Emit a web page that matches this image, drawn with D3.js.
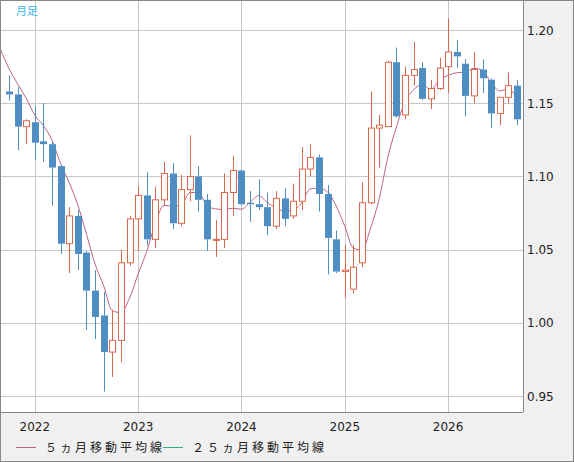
<!DOCTYPE html>
<html><head><meta charset="utf-8">
<script src="https://cdn.jsdelivr.net/npm/d3@7"></script>
<style>body{margin:0;background:#fff}svg{display:block;font-family:"DejaVu Sans",sans-serif}</style>
</head><body>
<svg id="c" width="574" height="462"></svg>
<script>
// monthly candles Oct 2021 .. Sep 2026
const months = d3.range(60).map(i => new Date(2021, 9 + i, 1));
const open  = [1.158,1.156,1.134,1.137,1.124,1.122,1.107,1.054,1.073,1.048,1.022,1.005,0.980,0.988,1.041,1.071,1.087,1.057,1.084,1.102,1.068,1.091,1.100,1.084,1.057,1.057,1.089,1.104,1.082,1.081,1.079,1.066,1.085,1.073,1.083,1.105,1.113,1.088,1.057,1.035,1.023,1.041,1.082,1.133,1.134,1.178,1.142,1.169,1.174,1.153,1.160,1.175,1.185,1.177,1.155,1.173,1.166,1.143,1.154,1.162];
const close = [1.156,1.134,1.138,1.123,1.122,1.106,1.054,1.073,1.047,1.022,1.004,0.980,0.988,1.041,1.071,1.087,1.057,1.084,1.102,1.068,1.091,1.100,1.084,1.057,1.057,1.089,1.104,1.081,1.081,1.079,1.066,1.085,1.071,1.083,1.105,1.113,1.088,1.058,1.035,1.036,1.038,1.082,1.133,1.135,1.178,1.141,1.169,1.173,1.153,1.160,1.174,1.185,1.182,1.155,1.173,1.167,1.143,1.154,1.162,1.139];
const high  = [1.169,1.161,1.139,1.148,1.150,1.124,1.108,1.079,1.077,1.049,1.036,1.021,1.009,1.050,1.073,1.093,1.103,1.093,1.110,1.109,1.101,1.128,1.107,1.088,1.070,1.102,1.114,1.105,1.090,1.098,1.089,1.090,1.092,1.095,1.120,1.122,1.115,1.094,1.063,1.053,1.053,1.096,1.158,1.142,1.179,1.188,1.175,1.192,1.178,1.166,1.181,1.208,1.193,1.180,1.185,1.180,1.167,1.154,1.171,1.166];
const low   = [1.152,1.118,1.122,1.111,1.110,1.080,1.047,1.034,1.036,0.995,0.989,0.953,0.963,0.973,1.039,1.049,1.053,1.051,1.080,1.064,1.066,1.083,1.076,1.049,1.045,1.051,1.073,1.080,1.069,1.077,1.060,1.064,1.066,1.071,1.077,1.100,1.076,1.033,1.034,1.017,1.020,1.038,1.081,1.106,1.134,1.140,1.139,1.162,1.152,1.146,1.159,1.157,1.174,1.141,1.150,1.157,1.133,1.135,1.150,1.135];
// closes before the first candle (Oct 2019 .. Sep 2021), needed for the averages
const priorCloses = [1.115,1.102,1.121,1.109,1.103,1.103,1.095,1.110,1.123,1.178,1.194,1.172,1.165,1.193,1.221,1.213,1.208,1.173,1.202,1.223,1.186,1.187,1.181,1.158];
const priceTicks = [0.95,1.00,1.05,1.10,1.15,1.20];
const yearTicks = [2022,2023,2024,2025,2026];

const W = 574, H = 462, pr = 523, pb = 412;
const svg = d3.select("#c");
svg.append("rect").attr("width", W).attr("height", H).attr("fill", "#f0f0f0");
svg.append("rect").attr("x", 0).attr("y", 0).attr("width", pr).attr("height", pb).attr("fill", "#fff");

const x = d3.scaleLinear().domain([0, 59]).range([9, 517]);
const y = d3.scaleLinear().domain([0.95, 1.20]).range([396, 30]);

const grid = svg.append("g").attr("stroke", "#c8c8c8").attr("stroke-width", 1);
priceTicks.forEach(t => grid.append("line").attr("x1", 0).attr("x2", pr).attr("y1", Math.round(y(t)) + .5).attr("y2", Math.round(y(t)) + .5));
yearTicks.forEach(yr => {
  const i = months.findIndex(m => m.getFullYear() === yr && m.getMonth() === 0);
  grid.append("line").attr("y1", 0).attr("y2", pb).attr("x1", Math.round(x(i)) + .5).attr("x2", Math.round(x(i)) + .5);
  svg.append("text").attr("x", x(i)).attr("y", 431).attr("text-anchor", "middle").attr("font-size", 12).attr("fill", "#222").text(yr);
});
priceTicks.forEach(t => svg.append("text").attr("x", 527).attr("y", y(t) + 4.5).attr("font-size", 12).attr("fill", "#222").text(t.toFixed(2)));

// moving averages
const all = priorCloses.concat(close);
const off = priorCloses.length;
function ma(n) {
  const pts = [];
  for (let k = off - 1; k < all.length; k++) pts.push([k - off, d3.mean(all.slice(k - n + 1, k + 1))]);
  return pts;
}
svg.append("clipPath").attr("id", "pc").append("rect").attr("width", pr).attr("height", pb);
const line = d3.line().x(d => x(d[0])).y(d => y(d[1])).curve(d3.curveMonotoneX);
const maG = svg.append("g").attr("clip-path", "url(#pc)").attr("fill", "none").attr("stroke-width", 1);
maG.append("path").attr("d", line(ma(25))).attr("stroke", "#2fb27c");
maG.append("path").attr("d", line(ma(5))).attr("stroke", "#b8628e");

// candles
const up = "#d9684c", dn = "#4f8ec2";
const cg = svg.append("g");
months.forEach((m, i) => {
  const isUp = close[i] >= open[i];
  const cx = Math.round(x(i)) + .5, col = isUp ? up : dn;
  const top = y(Math.max(open[i], close[i])), bot = y(Math.min(open[i], close[i]));
  cg.append("line").attr("x1", cx).attr("x2", cx).attr("y1", y(high[i])).attr("y2", top).attr("stroke", col);
  cg.append("line").attr("x1", cx).attr("x2", cx).attr("y1", bot).attr("y2", y(low[i])).attr("stroke", col);
  const h = Math.max(bot - top, 1);
  if (isUp) cg.append("rect").attr("x", cx - 3).attr("y", top).attr("width", 6).attr("height", h).attr("fill", "#fff").attr("stroke", col);
  else cg.append("rect").attr("x", cx - 3.5).attr("y", top).attr("width", 7).attr("height", h).attr("fill", col);
});

svg.append("text").attr("x", 16).attr("y", 15).attr("font-size", 11).attr("fill", "#3cb8e8").attr("font-family", "Noto Sans CJK JP").text("月足");
svg.append("line").attr("x1", pr + .5).attr("x2", pr + .5).attr("y1", 0).attr("y2", pb).attr("stroke", "#888");
svg.append("line").attr("x1", 0).attr("x2", pr).attr("y1", pb + .5).attr("y2", pb + .5).attr("stroke", "#888");
svg.append("rect").attr("x", .5).attr("y", .5).attr("width", W - 1).attr("height", H - 1).attr("fill", "none").attr("stroke", "#888");

// legend
const lg = svg.append("g").attr("font-size", 12).attr("fill", "#222").attr("font-family", "Noto Sans CJK JP");
[["５ヵ月移動平均線", "#b8628e", 16], ["２５ヵ月移動平均線", "#2fb27c", 163]].forEach(([t, c, lx]) => {
  svg.append("line").attr("x1", lx).attr("x2", lx + 20).attr("y1", 447.5).attr("y2", 447.5).attr("stroke", c);
  lg.append("text").attr("x", lx + 29).attr("y", 452).attr("letter-spacing", 3).text(t);
});
</script>
</body></html>
